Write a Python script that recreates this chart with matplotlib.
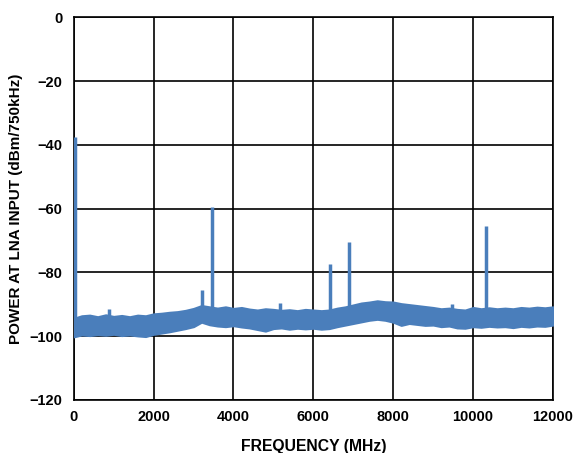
import numpy as np
import matplotlib.pyplot as plt

plt.rcParams['font.family'] = ['Liberation Sans', 'DejaVu Sans']

# noise floor envelope, every 200 MHz (0 .. 12000)
freq_env = np.arange(0, 12001, 200)
floor_top = [-94.4, -93.6, -93.4, -93.9, -93.3, -93.8, -93.5, -93.9, -93.4, -93.6,
             -93.0, -92.8, -92.5, -92.3, -91.9, -91.3, -90.4, -90.8, -91.2, -90.8,
             -91.3, -91.0, -91.5, -91.8, -91.4, -91.6, -91.9, -91.7, -92.0, -91.6,
             -91.8, -92.0, -91.8, -91.2, -90.8, -90.2, -89.6, -89.3, -88.9, -89.2,
             -89.3, -89.8, -90.1, -90.4, -90.7, -91.0, -91.4, -91.2, -91.6, -91.8,
             -91.0, -91.4, -91.1, -91.4, -91.2, -91.4, -91.0, -91.2, -90.9, -91.1,
             -90.8]
floor_bottom = [-100.2, -99.6, -99.8, -99.5, -99.7, -99.4, -99.8, -99.6, -99.9, -100.1,
                -99.4, -99.0, -98.6, -98.1, -97.6, -97.0, -95.6, -96.4, -96.8, -97.0,
                -96.7, -97.1, -97.4, -97.9, -98.4, -97.6, -97.4, -97.8, -97.5, -97.7,
                -97.5, -97.8, -97.6, -97.0, -96.5, -96.0, -95.5, -95.0, -94.7, -95.0,
                -95.6, -96.6, -96.0, -96.3, -96.6, -96.5, -97.0, -96.8, -97.4, -97.5,
                -97.0, -97.2, -96.9, -97.1, -97.0, -97.3, -96.9, -97.1, -96.8, -96.9,
                -96.5]

# spurs: frequency (MHz) and peak level (dBm)
spur_freq = [20, 890, 3210, 3455, 5160, 6410, 6890, 9470, 10320]
spur_peak = [-37.5, -91.5, -85.5, -59.5, -89.5, -77.5, -70.5, -90.0, -65.5]

color = '#4a7ebb'

fig = plt.figure(figsize=(5.76, 4.53), dpi=100)
ax = fig.add_axes([0.128, 0.117, 0.832, 0.845])

ax.fill_between(freq_env, floor_bottom, floor_top, color=color, linewidth=1.5,
                edgecolor=color, zorder=3)
floor_at_spur = np.interp(spur_freq, freq_env, floor_top)
ax.vlines(spur_freq, floor_at_spur, spur_peak, color=color, linewidth=2.5, zorder=3)

ax.set_xlim(0, 12000)
ax.set_ylim(-120, 0)
ax.set_xticks(range(0, 12001, 2000))
ax.set_yticks(range(-120, 1, 20))
ax.grid(True, color='black', linewidth=1.2)
ax.set_axisbelow(True)
for s in ax.spines.values():
    s.set_linewidth(1.2)
ax.tick_params(axis='x', length=0, labelsize=10.5, pad=7)
ax.tick_params(axis='y', length=0, labelsize=10.5, pad=8)
for lbl in ax.get_xticklabels() + ax.get_yticklabels():
    lbl.set_fontweight('bold')
ax.set_xlabel('FREQUENCY (MHz)', fontsize=11.3, fontweight='bold', labelpad=11)
ax.set_ylabel('POWER AT LNA INPUT (dBm/750kHz)', fontsize=11, fontweight='bold', labelpad=4.5)

fig.savefig('out.png', dpi=100)
